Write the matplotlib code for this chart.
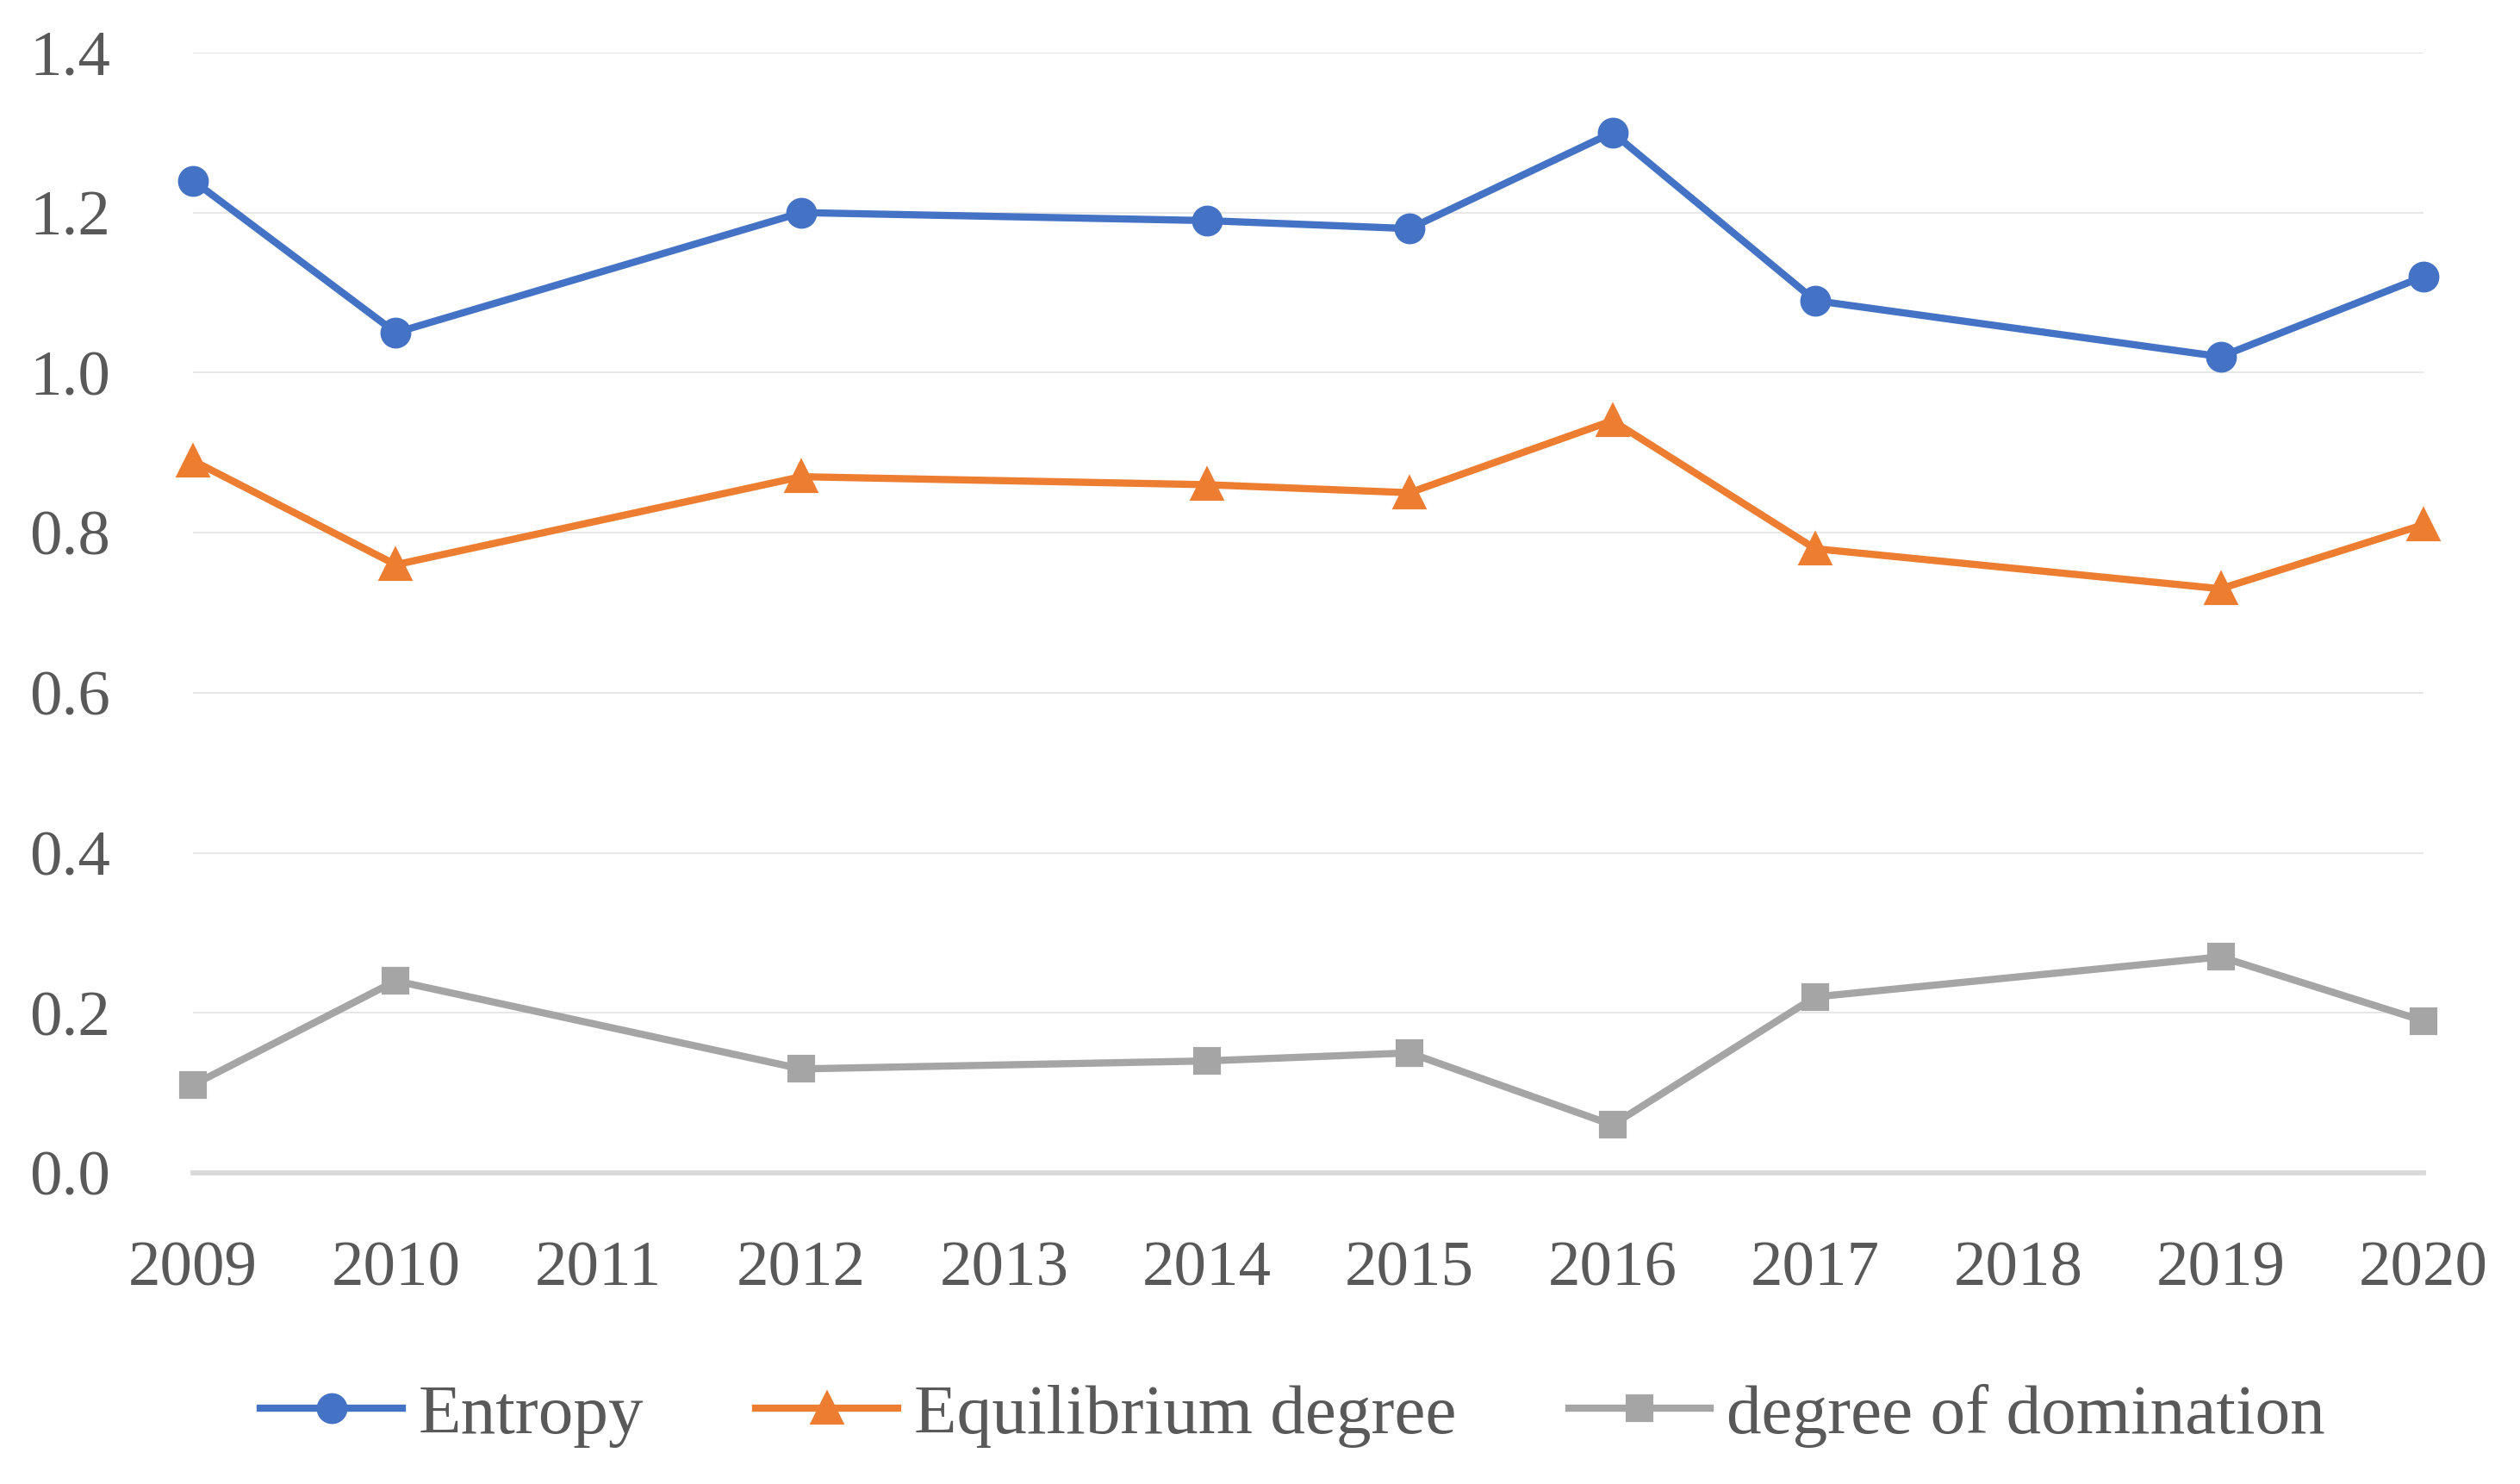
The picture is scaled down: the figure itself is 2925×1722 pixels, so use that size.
import matplotlib
matplotlib.use("Agg")
import matplotlib.pyplot as plt

years = [2009, 2010, 2012, 2014, 2015, 2016, 2017, 2019, 2020]
entropy = [1.24, 1.05, 1.20, 1.19, 1.18, 1.30, 1.09, 1.02, 1.12]
equilibrium = [0.89, 0.76, 0.87, 0.86, 0.85, 0.94, 0.78, 0.73, 0.81]
domination = [0.11, 0.24, 0.13, 0.14, 0.15, 0.06, 0.22, 0.27, 0.19]
xticks = list(range(2009, 2021))
yticks = [0.0, 0.2, 0.4, 0.6, 0.8, 1.0, 1.2, 1.4]

plt.rcParams['font.family'] = ['Liberation Serif', 'DejaVu Serif']
txt = '#595959'

fig = plt.figure(figsize=(9.75, 5.74), dpi=300)
ax = fig.add_axes([0.0766, 0.2096, 0.8851, 0.755])

ax.plot(years, entropy, color='#4472C4', lw=2.0, marker='o', ms=7.6,
        label='Entropy', clip_on=False, zorder=3)
ax.plot(years, equilibrium, color='#ED7D31', lw=2.0, marker='^', ms=8.0,
        label='Equilibrium degree', clip_on=False, zorder=3)
ax.plot(years, domination, color='#A5A5A5', lw=2.0, marker='s', ms=6.8,
        label='degree of domination', clip_on=False, zorder=3)

ax.set_xlim(2009, 2020)
ax.set_ylim(0, 1.4)
ax.set_xticks(xticks)
ax.set_yticks(yticks)
ax.set_yticklabels([f'{v:.1f}' for v in yticks])
ax.grid(axis='y', color='#E3E3E3', lw=0.4)
ax.set_axisbelow(True)
for s in ['top', 'right', 'left']:
    ax.spines[s].set_visible(False)
ax.spines['bottom'].set_color('#D9D9D9')
ax.spines['bottom'].set_linewidth(1.4)
ax.tick_params(axis='both', length=0, labelsize=18, colors=txt)
ax.tick_params(axis='y', pad=23)
ax.tick_params(axis='x', pad=19)

fig.legend(loc='center', bbox_to_anchor=(0.513, 0.046), ncol=3, frameon=False,
           fontsize=19.5, labelcolor=txt, handlelength=2.03, handletextpad=0.23,
           columnspacing=1.6)

fig.savefig('out.png', dpi=300)
